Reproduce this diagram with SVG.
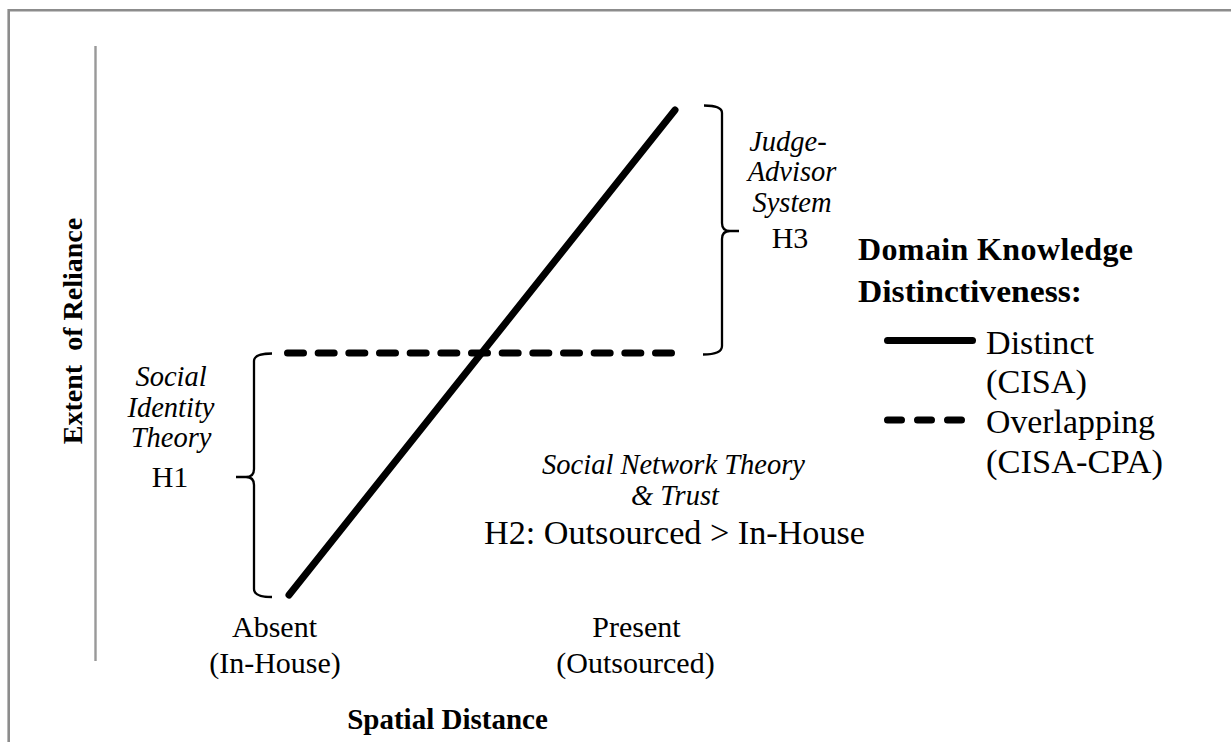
<svg xmlns="http://www.w3.org/2000/svg" width="1231" height="742" viewBox="0 0 1231 742">
<style>
  text { font-family: "Liberation Serif", "Times New Roman", serif; fill: #000; }
  .reg { font-size: 30px; }
  .big { font-size: 34px; }
  .it { font-size: 28.5px; font-style: italic; }
  .b { font-weight: bold; }
  .mid { text-anchor: middle; }
  .frame { stroke: #8c8c8c; stroke-width: 2.6; fill: none; }
  .axis { stroke: #999; stroke-width: 2.4; fill: none; }
  .brace { stroke: #000; stroke-width: 2.3; fill: none; stroke-linejoin: round; }
  .solid { stroke: #000; stroke-width: 7; stroke-linecap: round; fill: none; }
  .dash { stroke: #000; stroke-width: 7; stroke-linecap: round; fill: none; }
</style>
<rect width="1231" height="742" fill="#fff"/>
<g id="frame">
  <path class="frame" d="M8.7,742 L8.7,10.3 L1231,10.3"/>
</g>
<g id="y-axis">
  <line class="axis" x1="95.5" y1="46" x2="95.5" y2="661"/>
  <text class="b mid" style="font-size:28px" xml:space="preserve" transform="translate(82,331) rotate(-90)">Extent  of Reliance</text>
</g>
<g id="x-axis">
  <text class="reg mid" x="274.5" y="637">Absent</text>
  <text class="reg mid" x="275" y="673">(In-House)</text>
  <text class="reg mid" x="636.5" y="637">Present</text>
  <text class="reg mid" x="635.5" y="673">(Outsourced)</text>
  <text class="b mid" style="font-size:29px" x="447.5" y="729">Spatial Distance</text>
</g>
<g id="connectors">
  <line id="distinct-line" class="solid" x1="289" y1="595" x2="675" y2="110"/>
  <line id="overlapping-line" class="dash" x1="287.5" y1="353" x2="671.5" y2="353" stroke-dasharray="16 14.667"/>
</g>
<g id="h1">
  <path class="brace" d="M272,353.5 Q254,353.5 254,361 L254,469 Q254,477 246,477 L236,477 M246,477 Q254,477 254,485 L254,589 Q254,597 272,597"/>
  <text class="it mid" x="171" y="386">Social</text>
  <text class="it mid" x="171" y="417">Identity</text>
  <text class="it mid" x="171" y="447">Theory</text>
  <text class="reg mid" x="170" y="487">H1</text>
</g>
<g id="h3">
  <path class="brace" d="M704,105.5 Q722,105.5 722,113 L722,223 Q722,231 730,231 L739,231 M730,231 Q722,231 722,239 L722,346 Q722,354.5 703,354.5"/>
  <text class="it mid" x="788" y="151">Judge-</text>
  <text class="it mid" x="792" y="181">Advisor</text>
  <text class="it mid" x="792" y="212">System</text>
  <text class="reg mid" x="790" y="248">H3</text>
</g>
<g id="h2">
  <text class="it mid" x="673.5" y="474">Social Network Theory</text>
  <text class="it mid" x="675" y="505">&amp; Trust</text>
  <text class="big" x="484" y="544" textLength="381" lengthAdjust="spacingAndGlyphs">H2: Outsourced &gt; In-House</text>
</g>
<g id="legend">
  <text class="b" style="font-size:32px" x="858" y="260" textLength="275" lengthAdjust="spacing">Domain Knowledge</text>
  <text class="b" style="font-size:32px" x="858" y="302" textLength="224" lengthAdjust="spacingAndGlyphs">Distinctiveness:</text>
  <line class="solid" x1="887.5" y1="340.5" x2="972.5" y2="340.5"/>
  <text class="big" x="986" y="354" textLength="108" lengthAdjust="spacingAndGlyphs">Distinct</text>
  <text class="big" x="986" y="393" textLength="101" lengthAdjust="spacingAndGlyphs">(CISA)</text>
  <line class="dash" x1="887.5" y1="420" x2="961.5" y2="420" stroke-dasharray="14 16"/>
  <text class="big" x="986" y="433" textLength="169" lengthAdjust="spacingAndGlyphs">Overlapping</text>
  <text class="big" x="986" y="473" textLength="177" lengthAdjust="spacingAndGlyphs">(CISA-CPA)</text>
</g>
</svg>
